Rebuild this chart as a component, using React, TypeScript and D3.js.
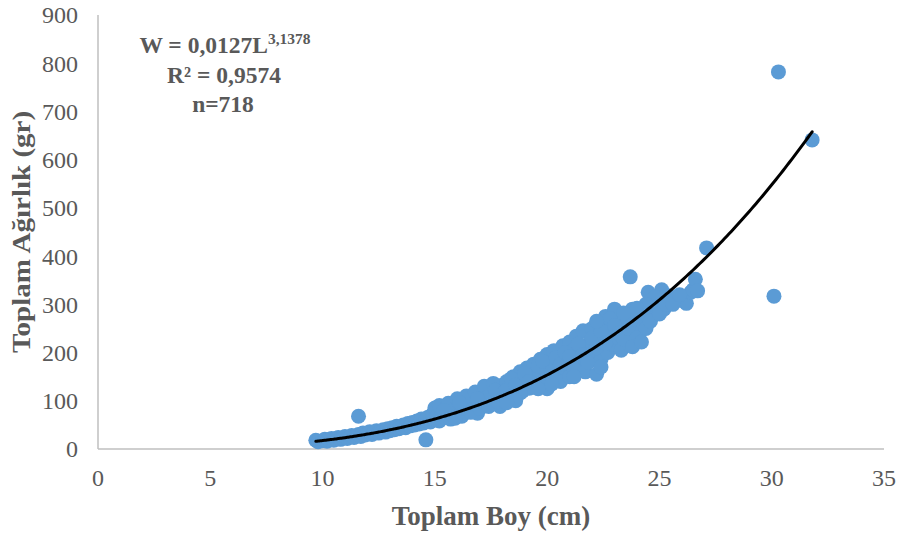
import React, { useRef, useEffect } from "react";
import * as d3 from "d3";

// boy (cm), ağırlık (gr) okumaları grafikten
const kucukBalik: [number, number][] = [
  [9.7, 18], [9.8, 15], [10, 17], [10.1, 20], [10.2, 16], [10.3, 19], [10.4, 22], [10.5, 18],
  [10.6, 21], [10.7, 24], [10.8, 20], [10.9, 23], [11, 26], [11.1, 22], [11.2, 25], [11.3, 28],
  [11.4, 24], [11.5, 27], [11.6, 30], [11.7, 26], [11.8, 33], [11.9, 29], [12, 32], [12.1, 36],
  [12.2, 30], [12.3, 34], [12.4, 38], [12.5, 33], [12.6, 37], [12.7, 40], [12.8, 35], [12.9, 42],
  [13, 38], [13.1, 44], [13.2, 40], [13.3, 47], [13.4, 42], [13.5, 45], [13.6, 50], [13.7, 44],
  [13.8, 53], [13.9, 48], [14, 55], [14.1, 50], [14.2, 58], [14.3, 52], [14.4, 62], [14.5, 54],
];

const ortaBalik: [number, number][] = [
  [14.6, 60], [14.7, 66], [14.8, 56], [14.9, 72], [15, 62], [15, 85], [15.1, 68], [15.2, 58],
  [15.3, 78], [15.4, 66], [15.5, 88], [15.6, 72], [15.7, 62], [15.8, 82], [15.9, 74], [16, 92],
  [16.1, 70], [16.2, 84], [16.3, 100], [16.4, 78], [16.5, 90], [16.6, 106], [16.7, 82], [16.8, 96],
  [16.9, 74], [17, 110], [17.1, 88], [17.2, 100], [17.3, 120], [17.4, 92], [17.5, 108], [17.6, 128],
  [17.7, 96], [17.8, 116], [17.9, 88], [18, 132], [18, 104],
  [15.2, 90], [15.6, 95], [16, 104], [16.4, 110], [16.8, 118], [17.2, 130], [17.6, 136],
  [16.2, 68], [16.6, 76], [17, 84], [17.4, 88], [17.8, 98], [15.9, 64], [17.3, 106],
  [16.9, 104], [17.7, 122], [15.4, 80], [16.1, 96],
];

const buyukBalik: [number, number][] = [
  [18.1, 118], [18.2, 140], [18.3, 108], [18.4, 126], [18.5, 150], [18.6, 114], [18.7, 134],
  [18.8, 160], [18.9, 120], [19, 142], [19.1, 168], [19.2, 126], [19.3, 150], [19.4, 176],
  [19.5, 134], [19.6, 158], [19.7, 186], [19.8, 140], [19.9, 166], [20, 196], [20, 125],
  [20.1, 150], [20.2, 176], [20.3, 204], [20.4, 158], [20.5, 186], [20.6, 140], [20.7, 214],
  [20.8, 168], [20.9, 196], [21, 222], [21, 150], [21.1, 178], [21.2, 206], [21.3, 234],
  [21.4, 170], [21.5, 192], [21.6, 245], [21.7, 160], [21.8, 216], [21.9, 182], [22, 250],
  [22, 198], [22.1, 228], [22.2, 155], [22.3, 262], [22.4, 186], [22.5, 238], [22.6, 275],
  [22.7, 200], [22.8, 248], [22.9, 218], [23, 290], [23.1, 232], [23.2, 260], [23.3, 205],
  [23.4, 280], [23.5, 245], [23.6, 268], [23.7, 215], [23.8, 290], [23.9, 252], [24, 275],
  [24.1, 240], [24.3, 262], [24.5, 325], [24.6, 285], [24.8, 298], [25, 310], [25.1, 330],
  [25.2, 290], [25.4, 318], [25.6, 305], [25.8, 312], [26, 308], [26.2, 302], [26.4, 325],
  [26.5, 330],
  [18.2, 122], [18.4, 146], [18.6, 132], [18.8, 116], [19, 156], [19.2, 140], [19.4, 128],
  [19.6, 172], [19.8, 182], [20, 140], [20.2, 160], [20.4, 190], [20.6, 176], [20.8, 200],
  [21, 192], [21.2, 166], [21.4, 218], [21.6, 196], [21.8, 180], [22, 230], [22.2, 210],
  [22.4, 244], [22.6, 220], [22.8, 270], [23, 256], [23.2, 240], [23.4, 228], [23.6, 250],
  [23.8, 270], [24, 230], [24.2, 282], [24.4, 250], [24.6, 265], [24.8, 315], [25, 280],
  [25.3, 300], [22.4, 170], [21.2, 150], [20.2, 135], [19.6, 125], [18.6, 100], [18.2, 96],
  [23.8, 212], [24.2, 222], [25.6, 300], [25.9, 320], [24.4, 300], [24, 292], [23.4, 282],
  [22.2, 265],
];

const ayrikNoktalar: [number, number][] = [
  [11.6, 68], [14.6, 19], [23.7, 357], [26.6, 352], [26.7, 328], [27.1, 417],
  [30.1, 317], [30.3, 782], [31.8, 641],
];

// güç eğrisi: W = a * L^b
const katsayiA = 0.0127;
const usB = 3.1378;
const egriAralik: [number, number] = [9.7, 31.8];

const xTicks = [0, 5, 10, 15, 20, 25, 30, 35];
const yTicks = [0, 100, 200, 300, 400, 500, 600, 700, 800, 900];

const width = 905;
const height = 539;
const margin = { top: 15, right: 21, bottom: 90, left: 98 };
const gray = "#595959";
const font = "'Liberation Serif', 'Times New Roman', serif";

const App = () => {
  const svgRef = useRef<SVGSVGElement>(null);

  useEffect(() => {
    const svg = d3.select(svgRef.current);
    svg.selectAll("*").remove();

    const x = d3.scaleLinear().domain([0, 35]).range([margin.left, width - margin.right]);
    const y = d3.scaleLinear().domain([0, 900]).range([height - margin.bottom, margin.top]);

    // eksen çizgileri
    svg.append("line")
      .attr("x1", x(0)).attr("x2", x(0))
      .attr("y1", y(900)).attr("y2", y(0))
      .attr("stroke", "#bfbfbf").attr("stroke-width", 1.5);
    svg.append("line")
      .attr("x1", x(0)).attr("x2", x(35))
      .attr("y1", y(0)).attr("y2", y(0))
      .attr("stroke", "#bfbfbf").attr("stroke-width", 1.5);

    svg.append("g")
      .selectAll("text")
      .data(yTicks)
      .enter()
      .append("text")
      .attr("x", x(0) - 20)
      .attr("y", (d) => y(d))
      .attr("dy", "0.35em")
      .attr("text-anchor", "end")
      .style("font-family", font)
      .style("font-size", "24px")
      .style("fill", gray)
      .text((d) => d);

    svg.append("g")
      .selectAll("text")
      .data(xTicks)
      .enter()
      .append("text")
      .attr("x", (d) => x(d))
      .attr("y", y(0) + 37)
      .attr("text-anchor", "middle")
      .style("font-family", font)
      .style("font-size", "24px")
      .style("fill", gray)
      .text((d) => d);

    const noktalar = [...kucukBalik, ...ortaBalik, ...buyukBalik, ...ayrikNoktalar];
    svg.append("g")
      .selectAll("circle")
      .data(noktalar)
      .enter()
      .append("circle")
      .attr("cx", (d) => x(d[0]))
      .attr("cy", (d) => y(d[1]))
      .attr("r", 7.5)
      .style("fill", "#5b9bd5");

    const egri = d3.range(egriAralik[0], egriAralik[1] + 0.001, 0.1)
      .map((L) => [L, katsayiA * Math.pow(L, usB)] as [number, number]);
    const line = d3.line<[number, number]>()
      .x((d) => x(d[0]))
      .y((d) => y(d[1]))
      .curve(d3.curveMonotoneX);
    svg.append("path")
      .datum(egri)
      .attr("fill", "none")
      .attr("stroke", "#000")
      .attr("stroke-width", 3)
      .attr("stroke-linecap", "round")
      .attr("d", line);

    // denklem kutusu
    const eq = svg.append("g")
      .style("font-family", font)
      .style("font-weight", "bold")
      .style("fill", gray)
      .attr("text-anchor", "middle");
    const t1 = eq.append("text").attr("x", 225).attr("y", 53).style("font-size", "23.5px");
    t1.append("tspan").text("W = 0,0127L");
    t1.append("tspan").attr("dy", -9).style("font-size", "15.5px").text("3,1378");
    eq.append("text").attr("x", 224).attr("y", 83).style("font-size", "23.5px").text("R² = 0,9574");
    eq.append("text").attr("x", 223).attr("y", 112).style("font-size", "23.5px").text("n=718");

    svg.append("text")
      .attr("x", (x(0) + x(35)) / 2)
      .attr("y", 525)
      .attr("text-anchor", "middle")
      .style("font-family", font)
      .style("font-weight", "bold")
      .style("font-size", "27px")
      .style("fill", gray)
      .text("Toplam Boy (cm)");

    svg.append("text")
      .attr("transform", `translate(30, ${(y(0) + y(900)) / 2}) rotate(-90) scale(1, 0.9)`)
      .attr("text-anchor", "middle")
      .style("font-family", font)
      .style("font-weight", "bold")
      .style("font-size", "29px")
      .style("fill", gray)
      .text("Toplam Ağırlık (gr)");
  }, []);

  return (
    <svg
      ref={svgRef}
      width={width}
      height={height}
      style={{ position: "absolute", left: 0, top: 0, background: "#fff" }}
    />
  );
};

export default App;
